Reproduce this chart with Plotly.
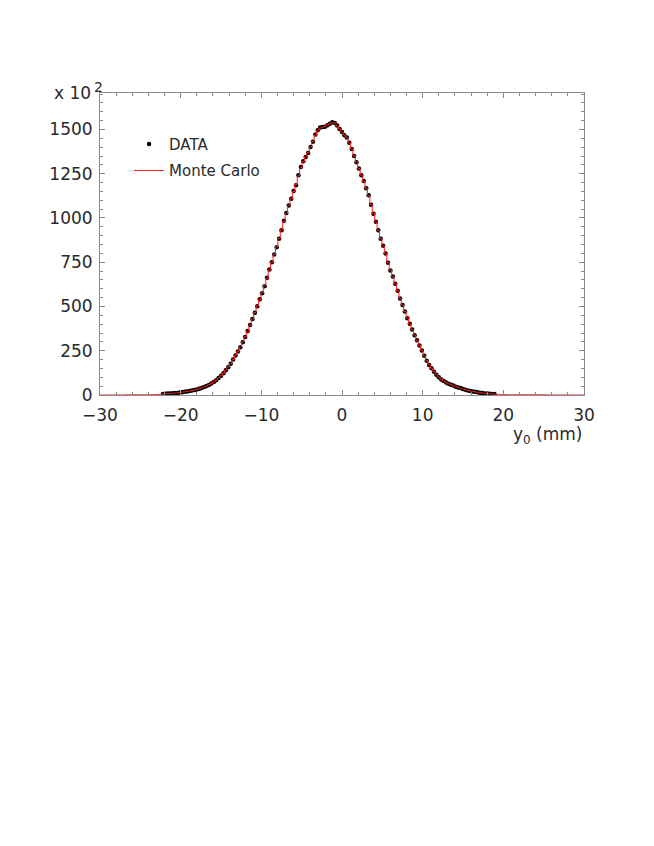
import plotly.graph_objects as go

# bin centres (mm) of the measured distribution
data_x = [-22.2, -21.9, -21.6, -21.3, -21.0, -20.7, -20.4, -20.1, -19.8, -19.5,
          -19.2, -18.9, -18.6, -18.3, -18.0, -17.7, -17.4, -17.1, -16.8, -16.5,
          -16.2, -15.9, -15.6, -15.3, -15.0, -14.7, -14.4, -14.1, -13.8, -13.5,
          -13.2, -12.9, -12.6, -12.3, -12.0, -11.7, -11.4, -11.1, -10.8, -10.5,
          -10.2, -9.9, -9.6, -9.3, -9.0, -8.7, -8.4, -8.1, -7.8, -7.5,
          -7.2, -6.9, -6.6, -6.3, -6.0, -5.7, -5.4, -5.1, -4.8, -4.5,
          -4.2, -3.9, -3.6, -3.3, -3.0, -2.7, -2.4, -2.1, -1.8, -1.5,
          -1.2, -0.9, -0.6, -0.3, 0.0, 0.3, 0.6, 0.9, 1.2, 1.5,
          1.8, 2.1, 2.4, 2.7, 3.0, 3.3, 3.6, 3.9, 4.2, 4.5,
          4.8, 5.1, 5.4, 5.7, 6.0, 6.3, 6.6, 6.9, 7.2, 7.5,
          7.8, 8.1, 8.4, 8.7, 9.0, 9.3, 9.6, 9.9, 10.2, 10.5,
          10.8, 11.1, 11.4, 11.7, 12.0, 12.3, 12.6, 12.9, 13.2, 13.5,
          13.8, 14.1, 14.4, 14.7, 15.0, 15.3, 15.6, 15.9, 16.2, 16.5,
          16.8, 17.1, 17.4, 17.7, 18.0, 18.3, 18.6, 18.9]

# DATA (x 10^2 entries)
data_y = [6, 7, 8, 9, 10, 11, 12, 14, 16, 18,
          20, 22, 25, 28, 31, 35, 40, 45, 51, 57,
          65, 74, 84, 96, 109, 123, 140, 157, 177, 200,
          223, 246, 270, 298, 328, 362, 396, 430, 464, 501,
          541, 575, 615, 662, 709, 750, 794, 835, 883, 930,
          985, 1028, 1071, 1109, 1152, 1185, 1241, 1288, 1320, 1345,
          1367, 1401, 1430, 1471, 1495, 1511, 1514, 1516, 1524, 1532,
          1541, 1536, 1522, 1503, 1485, 1468, 1455, 1425, 1390, 1350,
          1315, 1279, 1241, 1209, 1168, 1128, 1075, 1024, 978, 930,
          883, 843, 800, 747, 704, 670, 628, 589, 545, 509,
          471, 434, 402, 370, 338, 309, 279, 251, 222, 194,
          170, 151, 132, 115, 100, 88, 79, 71, 64, 58,
          53, 47, 43, 39, 34, 30, 26, 23, 20, 18,
          16, 13, 11, 9, 8, 7, 6, 5]

# Monte Carlo histogram (same bins, plus empty outer range)
mc_x_low = [-30.0, -24.0, -23.4, -22.8, -22.5]
mc_y_low = [0, 1, 2, 3, 4]
mc_mid = [6, 7, 8, 9, 10, 11, 12, 14, 16, 18,
          20, 22, 25, 28, 31, 35, 40, 45, 51, 58,
          65, 74, 84, 96, 109, 124, 140, 158, 178, 200,
          223, 247, 272, 299, 329, 361, 395, 430, 466, 503,
          540, 578, 618, 661, 706, 750, 794, 838, 884, 932,
          982, 1027, 1070, 1110, 1150, 1190, 1238, 1284, 1318, 1346,
          1370, 1402, 1432, 1468, 1493, 1508, 1514, 1518, 1526, 1534,
          1540, 1535, 1521, 1503, 1486, 1469, 1453, 1424, 1389, 1351,
          1315, 1279, 1242, 1207, 1167, 1126, 1076, 1025, 978, 930,
          884, 842, 798, 749, 706, 668, 628, 588, 546, 508,
          471, 435, 401, 369, 338, 308, 279, 250, 222, 195,
          171, 151, 132, 115, 101, 89, 79, 71, 64, 58,
          52, 47, 43, 38, 34, 30, 26, 23, 20, 18,
          15, 13, 11, 9, 8, 7, 6, 5]
mc_x_high = [19.2, 19.8, 21.0, 30.0]
mc_y_high = [4, 2, 1, 0]

mc_x = mc_x_low + data_x + mc_x_high
mc_y = mc_y_low + mc_mid + mc_y_high

FONT = "DejaVu Sans"
TXT = "#2a2a2a"
AX = "#8a8a8a"

fig = go.Figure()
fig.add_trace(go.Scatter(
    x=data_x, y=data_y, mode="markers", name="DATA", legendgroup="d",
    marker=dict(color="black", size=4.5, line=dict(width=0)),
))
fig.add_trace(go.Scatter(
    x=mc_x, y=mc_y, mode="lines", name="Monte Carlo", legendgroup="m",
    line=dict(color="#ff2020", width=1, shape="hvh"),
))

fig.update_layout(
    width=654, height=846,
    margin=dict(l=92, r=78, t=85, b=459),
    paper_bgcolor="white", plot_bgcolor="white",
    font=dict(family=FONT, size=17, color=TXT),
    showlegend=True,
    legend=dict(
        x=0.06, y=0.885, xanchor="left", yanchor="top",
        bgcolor="rgba(0,0,0,0)", font=dict(size=15, color=TXT),
        itemwidth=30, tracegroupgap=4,
    ),
    xaxis=dict(
        range=[-30, 30], dtick=10, tick0=0,
        ticks="inside", ticklen=5, tickcolor=AX, tickwidth=1,
        showline=True, linecolor=AX, linewidth=1, mirror="ticks",
        showgrid=False, zeroline=False, ticklabelstandoff=5,
        tickfont=dict(size=17, color=TXT),
        minor=dict(dtick=2, tick0=0, ticks="inside", ticklen=3, tickcolor=AX, showgrid=False),
    ),
    yaxis=dict(
        range=[0, 1706], dtick=250, tick0=0,
        ticks="inside", ticklen=5, tickcolor=AX, tickwidth=1,
        showline=True, linecolor=AX, linewidth=1, mirror="ticks",
        showgrid=False, zeroline=False, ticklabelstandoff=3,
        tickfont=dict(size=17, color=TXT),
        minor=dict(dtick=50, tick0=0, ticks="inside", ticklen=3, tickcolor=AX, showgrid=False),
    ),
    annotations=[
        dict(text="y<sub>0</sub> (mm)", xref="paper", yref="paper",
             x=1.0, y=-0.135, xanchor="right", yanchor="middle",
             showarrow=False, font=dict(size=17, color=TXT)),
        dict(text="x 10", xref="paper", yref="paper",
             x=-0.0145, y=1.0, xanchor="right", yanchor="middle",
             showarrow=False, font=dict(size=17, color=TXT)),
        dict(text="2", xref="paper", yref="paper",
             x=-0.016, y=1.02, xanchor="left", yanchor="middle",
             showarrow=False, font=dict(size=14, color=TXT)),
    ],
)

fig.write_html("out.html")
